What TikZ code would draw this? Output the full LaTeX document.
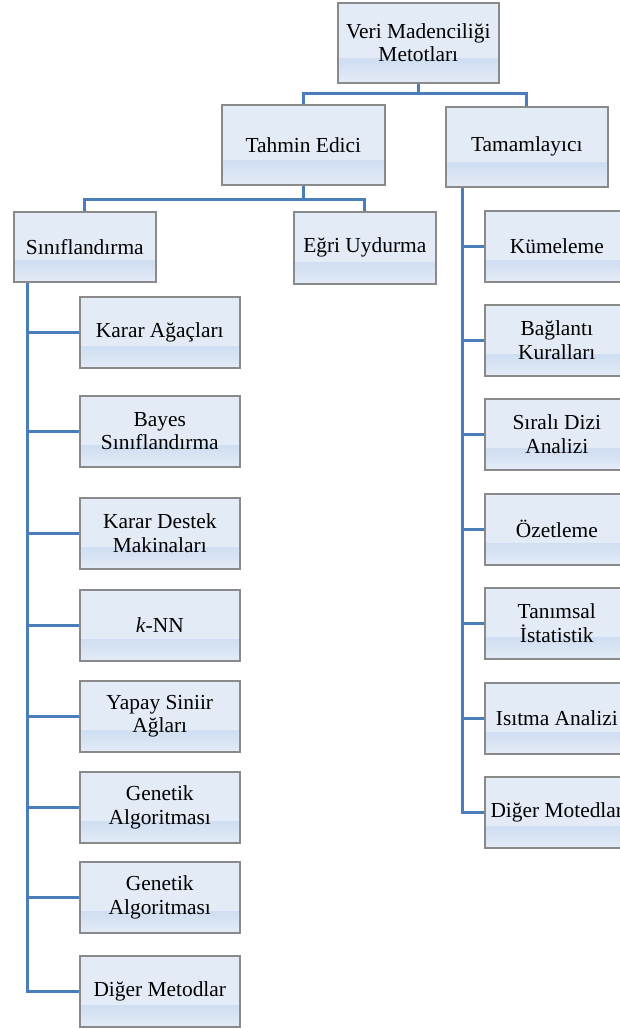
\documentclass[tikz,border=0pt]{standalone}
\usepackage{fontspec}
\setmainfont{Liberation Serif}
\usetikzlibrary{calc}
\definecolor{boxtop}{HTML}{E3EBF6}
\definecolor{boxbot}{HTML}{A2C0E9}
\definecolor{boxedge}{HTML}{8A8A8A}
\definecolor{conncol}{HTML}{4A7EBB}
\tikzset{
  box/.style={draw=boxedge, line width=1.6pt, fill=boxtop, anchor=north west,
    inner sep=0pt, align=center, text=black,
    font=\fontsize{21.4}{23.5}\selectfont,
    path picture={\shade[top color=boxbot,bottom color=boxtop]
      (path picture bounding box.south west) rectangle
      ($(path picture bounding box.south east)!0.3!(path picture bounding box.north east)$);}},
  bw/.style 2 args={minimum width=#1pt, minimum height=#2pt},
  conn/.style={draw=conncol, line width=3pt}
}
\begin{document}
\begin{tikzpicture}[x=1pt,y=-1pt]
\useasboundingbox (0,0) rectangle (620,1029);
\clip (0,0) rectangle (620,1029);
% connectors (drawn first, under the boxes)
\coordinate (rootS) at (417.5,82);
\coordinate (tahN) at (302.5,104);
\coordinate (tamN) at (526,106);
\coordinate (tahS) at (302.5,184);
\coordinate (sinN) at (84,211);
\coordinate (egrN) at (364,211);
% top levels
\node[box,bw={161}{80}] (root) at (337,2) {Veri Madenciliği\\Metotları};
\node[box,bw={163}{80}] (tahmin) at (221,104) {Tahmin Edici};
\node[box,bw={162}{80}] (tamam) at (445,106) {Tamamlayıcı};
\node[box,bw={142}{70}] (sinif) at (13,211) {Sınıflandırma};
\node[box,bw={142}{72}] (egri) at (293,211) {Eğri Uydurma};
% left column
\node[box,bw={160}{71}] (l1) at (79,296) {Karar Ağaçları};
\node[box,bw={160}{71}] (l2) at (79,395) {Bayes\\Sınıflandırma};
\node[box,bw={160}{71}] (l3) at (79,497) {Karar Destek\\Makinaları};
\node[box,bw={160}{71}] (l4) at (79,589) {\textit{k}-NN};
\node[box,bw={160}{71}] (l5) at (79,680) {Yapay Siniir\\Ağları};
\node[box,bw={160}{71}] (l6) at (79,771) {Genetik\\Algoritması};
\node[box,bw={160}{71}] (l7) at (79,861) {Genetik\\Algoritması};
\node[box,bw={160}{71}] (l8) at (79,955) {Diğer Metodlar};
% right column
\node[box,bw={144}{71}] (r1) at (484,210) {Kümeleme};
\node[box,bw={144}{71}] (r2) at (484,304) {Bağlantı\\Kuralları};
\node[box,bw={144}{71}] (r3) at (484,398) {Sıralı Dizi\\Analizi};
\node[box,bw={144}{71}] (r4) at (484,493) {Özetleme};
\node[box,bw={144}{71}] (r5) at (484,587) {Tanımsal\\İstatistik};
\node[box,bw={144}{71}] (r6) at (484,682) {Isıtma Analizi};
\node[box,bw={144}{71}] (r7) at (484,776) {Diğer Motedlar};
% connectors
\draw[conn] (root.south) -- ++(0,10) -| (tahmin.north);
\draw[conn] (root.south) -- ++(0,10) -| (tamam.north);
\draw[conn] (tahmin.south) -- ++(0,14) -| (sinif.north);
\draw[conn] (tahmin.south) -- ++(0,14) -| (egri.north);
\coordinate (lx) at ([xshift=14]sinif.south west);
\draw[conn] (lx) |- (l8.west);
\foreach \n in {l1,l2,l3,l4,l5,l6,l7}{\draw[conn] (\n.west) -- (\n.west -| lx);}
\coordinate (rx) at ([xshift=17]tamam.south west);
\draw[conn] (rx) |- (r7.west);
\foreach \n in {r1,r2,r3,r4,r5,r6}{\draw[conn] (\n.west) -- (\n.west -| rx);}
\end{tikzpicture}
\end{document}
